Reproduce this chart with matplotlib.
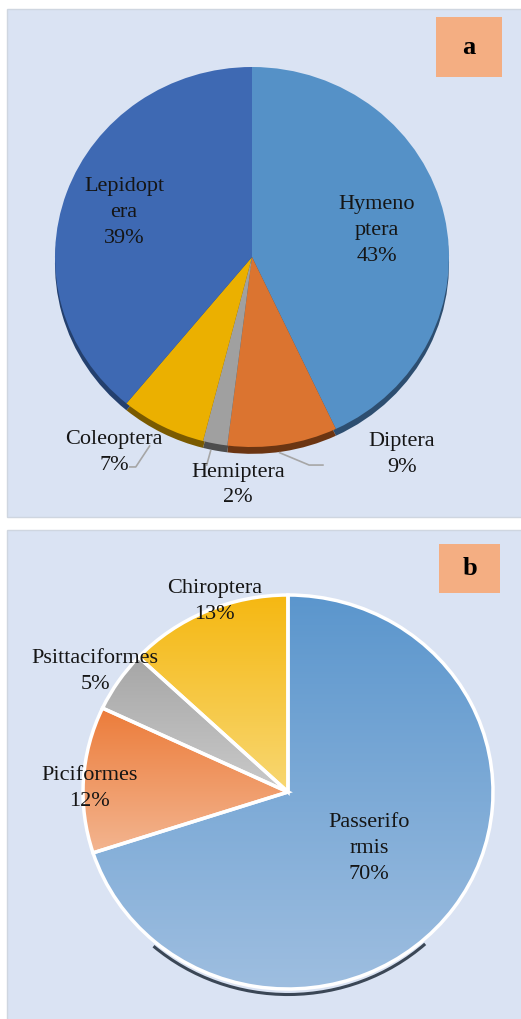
import matplotlib
matplotlib.use("Agg")
import matplotlib.pyplot as plt
import numpy as np
from matplotlib.patches import Rectangle, Arc
from matplotlib.colors import LinearSegmentedColormap

# panel a - insect orders
insect_names = ["Hymeno\nptera", "Diptera", "Hemiptera", "Coleoptera", "Lepidopt\nera"]
insect_pct = [43, 9, 2, 7, 39]
insect_colors = ["#5591c7", "#db7430", "#a0a0a0", "#ebb000", "#3e69b3"]
insect_rim = ["#2d4e70", "#6b3512", "#4d4d4d", "#7a5a00", "#24406e"]

# panel b - vertebrate orders
vert_names = ["Passerifo\nrmis", "Piciformes", "Psittaciformes", "Chiroptera"]
vert_pct = [70, 12, 5, 13]
vert_top = ["#5b96cd", "#ec7c3a", "#a6a6a6", "#f5b812"]
vert_bottom = ["#9ebee0", "#f3b590", "#cacaca", "#f8d772"]

W, H = 521, 1019
BG = "#dae3f3"
TXT = "#151515"
FONT = "Liberation Serif"
LS = 1.5

fig = plt.figure(figsize=(W / 100, H / 100), dpi=100)
base = fig.add_axes([0, 0, 1, 1])
base.set_xlim(0, W)
base.set_ylim(H, 0)
base.axis("off")

# panel backgrounds and letter boxes
base.add_patch(Rectangle((7, 9), 516, 508, facecolor=BG, edgecolor="#cfd6e0", lw=1))
base.add_patch(Rectangle((7, 530), 516, 495, facecolor=BG, edgecolor="#cfd6e0", lw=1))
base.add_patch(Rectangle((436, 17), 66, 60, facecolor="#f4ae82", edgecolor="none"))
base.add_patch(Rectangle((439, 544), 61, 49, facecolor="#f4ae82", edgecolor="none"))
base.text(469, 47, "a", ha="center", va="center", fontsize=19, fontweight="bold",
          family=FONT, color="black")
base.text(469.5, 568.5, "b", ha="center", va="center", fontsize=19, fontweight="bold",
          family=FONT, color="black")


def pie_axes(cx, cy, rx, ry, L=1.4):
    ax = fig.add_axes([(cx - rx * L) / W, 1 - (cy + ry * L) / H,
                       2 * rx * L / W, 2 * ry * L / H])
    return ax


def mid_angles(vals):
    # degrees clockwise from 12 o'clock
    c = np.cumsum([0] + list(vals))
    tot = float(sum(vals))
    return [(c[i] + vals[i] / 2.0) / tot * 360 for i in range(len(vals))]


def pos(theta, r):
    t = np.radians(theta)
    return r * np.sin(t), r * np.cos(t)


# ---------------- panel a ----------------
L = 1.4
axa = pie_axes(252, 257, 197, 190, L)
axa.pie(insect_pct, colors=insect_rim, startangle=90, counterclock=False,
        center=(0, -0.036), wedgeprops=dict(linewidth=0))
axa.pie(insect_pct, colors=insect_colors, startangle=90, counterclock=False,
        wedgeprops=dict(linewidth=0))
axa.set_aspect("auto")
axa.set_xlim(-L, L)
axa.set_ylim(-L, L)
axa.axis("off")

angs = mid_angles(insect_pct)
inside_r = {0: 0.65, 4: 0.69}
# text spot and leader line for the small slices (pie units)
outside = {
    1: ((0.76, -1.04), [(0.14, -1.03), (0.29, -1.095), (0.36, -1.095)]),
    2: ((-0.07, -1.20), [(-0.21, -1.02), (-0.23, -1.095)]),
    3: ((-0.70, -1.03), [(-0.52, -0.995), (-0.59, -1.105), (-0.62, -1.105)]),
}
for i, (nm, p) in enumerate(zip(insect_names, insect_pct)):
    lab = "%s\n%d%%" % (nm, p)
    if i in inside_r:
        x, y = pos(angs[i], inside_r[i])
    else:
        (x, y), line = outside[i]
        lx, ly = zip(*line)
        axa.plot(lx, ly, color="#a6a6a6", lw=1.2, zorder=2)
    axa.text(x, y, lab, ha="center", va="center", multialignment="center",
             fontsize=16, family=FONT, color=TXT, linespacing=LS, zorder=3)

# ---------------- panel b ----------------
axb = pie_axes(288, 792, 205, 197, L)
# soft shadow under the bottom edge
axb.add_patch(Arc((0, -0.028), 2.0, 2.0, theta1=229, theta2=312,
                  color="#3b4756", lw=2.2, zorder=0))
wedges, _ = axb.pie(vert_pct, colors=vert_top, startangle=90, counterclock=False,
                    wedgeprops=dict(linewidth=0))
grad = np.linspace(0, 1, 256).reshape(-1, 1)
for w, c1, c2 in zip(wedges, vert_top, vert_bottom):
    bb = w.get_path().get_extents()
    cm = LinearSegmentedColormap.from_list("g", [c1, c2])
    im = axb.imshow(grad, cmap=cm, extent=(bb.x0, bb.x1, bb.y0, bb.y1),
                    origin="upper", aspect="auto", zorder=1)
    im.set_clip_path(w)
axb.pie(vert_pct, startangle=90, counterclock=False,
        wedgeprops=dict(fill=False, edgecolor="white", linewidth=2.5, zorder=2))
axb.set_aspect("auto")
axb.set_xlim(-L, L)
axb.set_ylim(-L, L)
axb.axis("off")

angs_b = mid_angles(vert_pct)
spots_b = {0: pos(angs_b[0], 0.49), 1: (-0.97, 0.02), 2: (-0.94, 0.61), 3: (-0.36, 0.965)}
for i, (nm, p) in enumerate(zip(vert_names, vert_pct)):
    x, y = spots_b[i]
    axb.text(x, y, "%s\n%d%%" % (nm, p), ha="center", va="center",
             multialignment="center", fontsize=16, family=FONT, color=TXT,
             linespacing=LS, zorder=4)

fig.savefig("out.png", dpi=100)
